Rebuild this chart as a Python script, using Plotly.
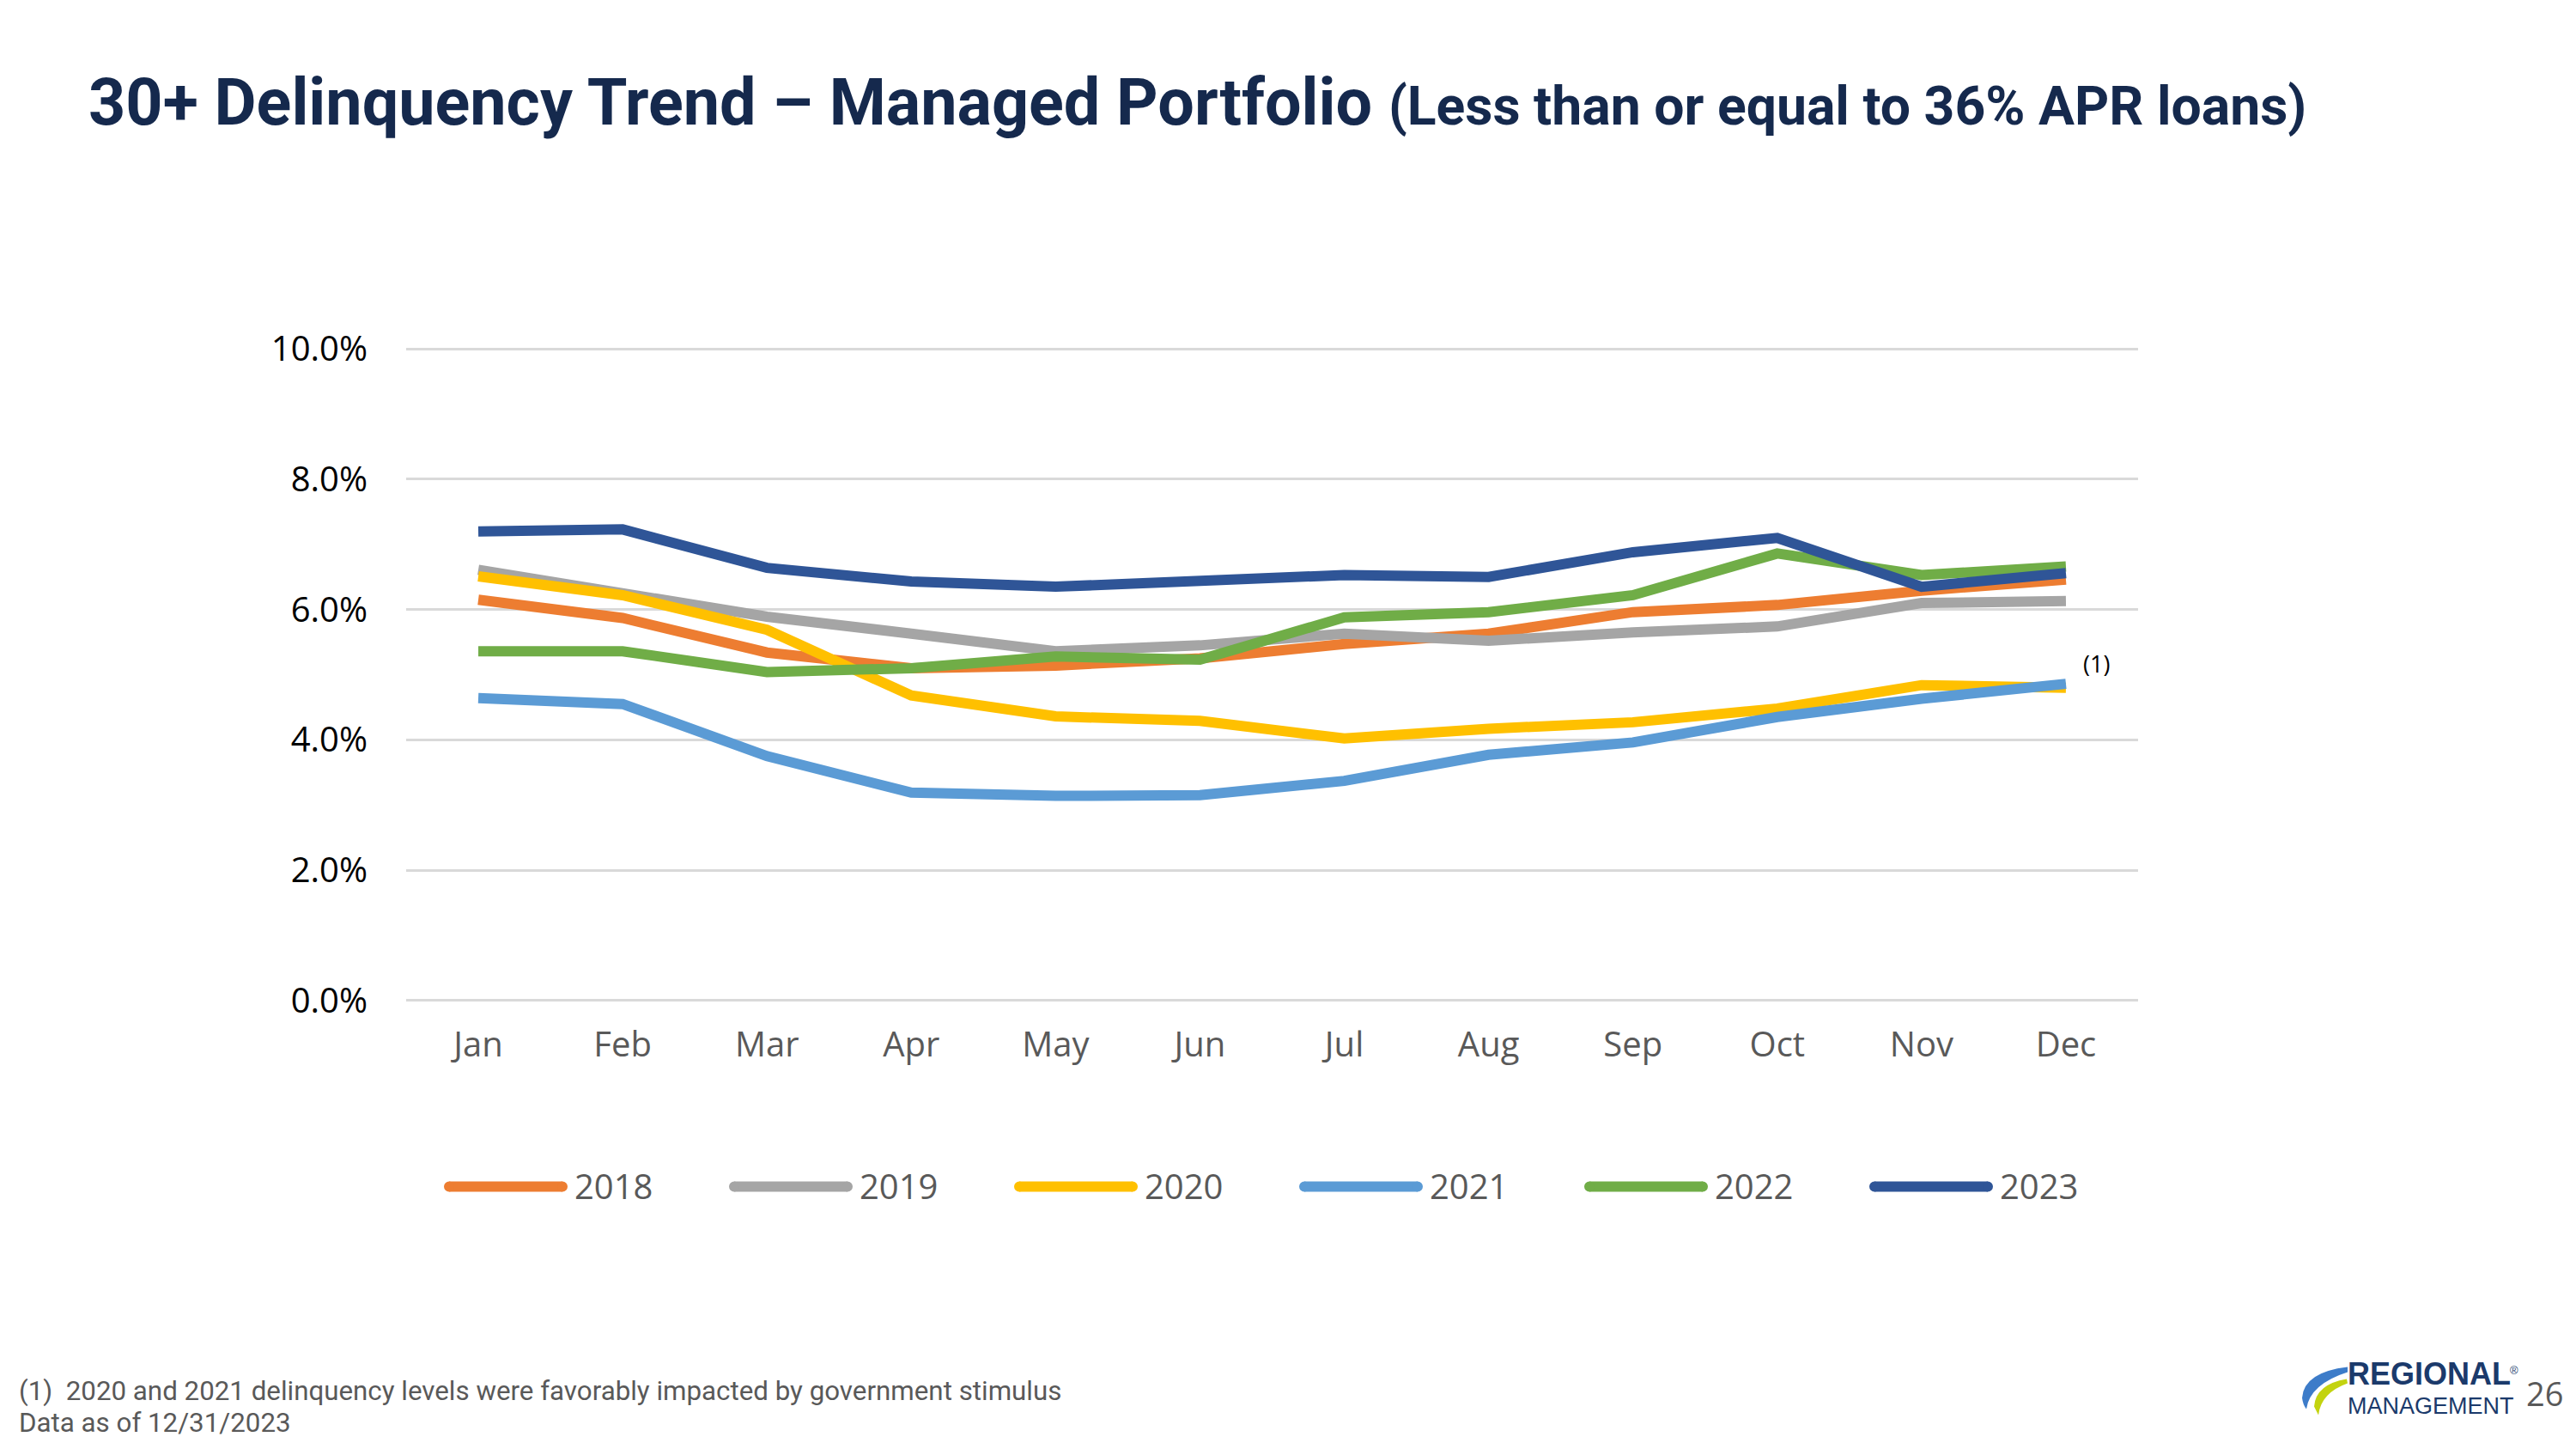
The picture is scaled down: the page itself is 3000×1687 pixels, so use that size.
import plotly.graph_objects as go

# ---------------- data ----------------
months = ["Jan", "Feb", "Mar", "Apr", "May", "Jun", "Jul", "Aug", "Sep", "Oct", "Nov", "Dec"]
years = ["2018", "2019", "2020", "2021", "2022", "2023"]
y2018 = [6.15, 5.87, 5.34, 5.10, 5.14, 5.25, 5.47, 5.63, 5.96, 6.07, 6.29, 6.46]
y2019 = [6.61, 6.27, 5.89, 5.63, 5.36, 5.45, 5.63, 5.52, 5.65, 5.74, 6.10, 6.13]
y2020 = [6.51, 6.22, 5.69, 4.68, 4.36, 4.29, 4.02, 4.17, 4.27, 4.48, 4.84, 4.80]
y2021 = [4.64, 4.55, 3.75, 3.19, 3.14, 3.15, 3.37, 3.77, 3.96, 4.35, 4.63, 4.86]
y2022 = [5.36, 5.36, 5.04, 5.10, 5.28, 5.23, 5.88, 5.96, 6.22, 6.86, 6.53, 6.66]
y2023 = [7.20, 7.23, 6.64, 6.43, 6.35, 6.44, 6.53, 6.50, 6.88, 7.10, 6.35, 6.56]
series = [y2018, y2019, y2020, y2021, y2022, y2023]
colors = ["#ED7D31", "#A5A5A5", "#FFC000", "#5B9BD5", "#70AD47", "#2F5597"]
y_ticks = [0, 2, 4, 6, 8, 10]
y_ticktext = ["0.0%", "2.0%", "4.0%", "6.0%", "8.0%", "10.0%"]

title_main = "30+ Delinquency Trend \u2013 Managed Portfolio"
title_sub = "(Less than or equal to 36% APR loans)"
footnote1 = "(1)  2020 and 2021 delinquency levels were favorably impacted by government stimulus"
footnote2 = "Data as of 12/31/2023"

# ---------------- geometry helpers (page pixel coordinates) ----------------
PAGE_W, PAGE_H = 3000, 1687
OFF = 8                      # default body margin of the html page
W, H = PAGE_W - OFF, PAGE_H - OFF
Y_LO, Y_HI = -0.03, 10.03
L, R = 473, 2490
PX_PER = (1165 - 406) / 10.0
T = 406 - (Y_HI - 10) * PX_PER
B = 1165 + (0 - Y_LO) * PX_PER


def px(x):
    return (x - L) / (R - L)


def py(y):
    return (B - y) / (B - T)


def path(points):
    out = []
    for cmd, *coords in points:
        pairs = [f"{px(coords[i]):.5f},{py(coords[i + 1]):.5f}" for i in range(0, len(coords), 2)]
        out.append(cmd + " " + " ".join(pairs))
    return " ".join(out) + " Z"


fig = go.Figure()
for name, vals, col in zip(years, series, colors):
    fig.add_trace(go.Scatter(
        x=months, y=vals, mode="lines", name=name,
        line=dict(color=col, width=12),
        showlegend=False, hoverinfo="skip",
    ))

shapes = []
annotations = []

# custom legend (long rounded swatches like the original)
for i, (name, col) in enumerate(zip(years, colors)):
    x0 = 523 + 332 * i
    x1 = x0 + 132
    shapes.append(dict(type="line", xref="paper", yref="paper",
                       x0=px(x0), x1=px(x1), y0=py(1382), y1=py(1382),
                       line=dict(color=col, width=12)))
    for cx in (x0, x1):
        shapes.append(dict(type="circle", xref="paper", yref="paper",
                           x0=px(cx - 6), x1=px(cx + 6), y0=py(1388), y1=py(1376),
                           fillcolor=col, line=dict(width=0)))
    annotations.append(dict(xref="paper", yref="paper", x=px(x0 + 144), y=py(1381),
                            xanchor="left", yanchor="middle", showarrow=False,
                            text=name, font=dict(family="Open Sans", size=40, color="#595959")))

# title
annotations.append(dict(
    xref="paper", yref="paper", x=px(101), y=py(119), xanchor="left", yanchor="middle",
    showarrow=False,
    text=f"<b>{title_main}</b> <span style='font-size:62.5px'><b>{title_sub}</b></span>",
    font=dict(family="Roboto", size=75.5, color="#15294D"),
))

# footnote marker
annotations.append(dict(xref="paper", yref="paper", x=px(2441), y=py(772),
                        xanchor="center", yanchor="middle", showarrow=False,
                        text="(1)", font=dict(family="Open Sans", size=27, color="#000000")))

# footnotes
annotations.append(dict(xref="paper", yref="paper", x=px(20), y=py(1620),
                        xanchor="left", yanchor="middle", showarrow=False,
                        text=footnote1, font=dict(family="Roboto", size=31.3, color="#595959")))
annotations.append(dict(xref="paper", yref="paper", x=px(20), y=py(1657),
                        xanchor="left", yanchor="middle", showarrow=False,
                        text=footnote2, font=dict(family="Roboto", size=31.3, color="#595959")))

# logo
shapes.append(dict(type="path", xref="paper", yref="paper", line=dict(width=0), fillcolor="#3D7CC9",
                   path=path([("M", 2734, 1592), ("Q", 2683, 1598, 2681, 1628), ("Q", 2682, 1636, 2686, 1641),
                              ("Q", 2690, 1612, 2734, 1598)])))
shapes.append(dict(type="path", xref="paper", yref="paper", line=dict(width=0), fillcolor="#C3D30F",
                   path=path([("M", 2733, 1606), ("Q", 2697, 1612, 2695, 1638), ("L", 2700, 1648),
                              ("Q", 2703, 1622, 2734, 1611)])))
annotations.append(dict(xref="paper", yref="paper", x=px(2733), y=py(1622),
                        xanchor="left", yanchor="bottom", showarrow=False, borderpad=0,
                        text="<b>REGIONAL</b>",
                        font=dict(family="Liberation Sans", size=36, color="#1B3A6B")))
annotations.append(dict(xref="paper", yref="paper", x=px(2922), y=py(1596),
                        xanchor="left", yanchor="middle", showarrow=False, borderpad=0,
                        text="\u00ae", font=dict(family="Liberation Sans", size=13, color="#1B3A6B")))
annotations.append(dict(xref="paper", yref="paper", x=px(2733), y=py(1622),
                        xanchor="left", yanchor="top", showarrow=False, borderpad=0,
                        text="MANAGEMENT",
                        font=dict(family="Liberation Sans", size=27, color="#1B3A6B")))
annotations.append(dict(xref="paper", yref="paper", x=px(2940), y=py(1623),
                        xanchor="left", yanchor="middle", showarrow=False,
                        text="26", font=dict(family="Open Sans", size=38, color="#595959")))

fig.update_layout(
    width=W, height=H,
    margin=dict(l=L - OFF, r=PAGE_W - R, t=T - OFF, b=PAGE_H - B, pad=0),
    paper_bgcolor="white", plot_bgcolor="white",
    showlegend=False,
    shapes=shapes, annotations=annotations,
    xaxis=dict(range=[-0.5, 11.5], showgrid=False, showline=False, zeroline=False, ticks="",
               tickfont=dict(family="Open Sans", size=40, color="#595959"),
               ticklabelstandoff=22),
    yaxis=dict(range=[Y_LO, Y_HI], tickvals=y_ticks, ticktext=y_ticktext,
               showgrid=True, gridcolor="#D9D9D9", gridwidth=3, zeroline=False, showline=False,
               ticks="", tickfont=dict(family="Open Sans", size=40, color="#000000"),
               ticklabelstandoff=44),
)

fig.write_html("out.html")
